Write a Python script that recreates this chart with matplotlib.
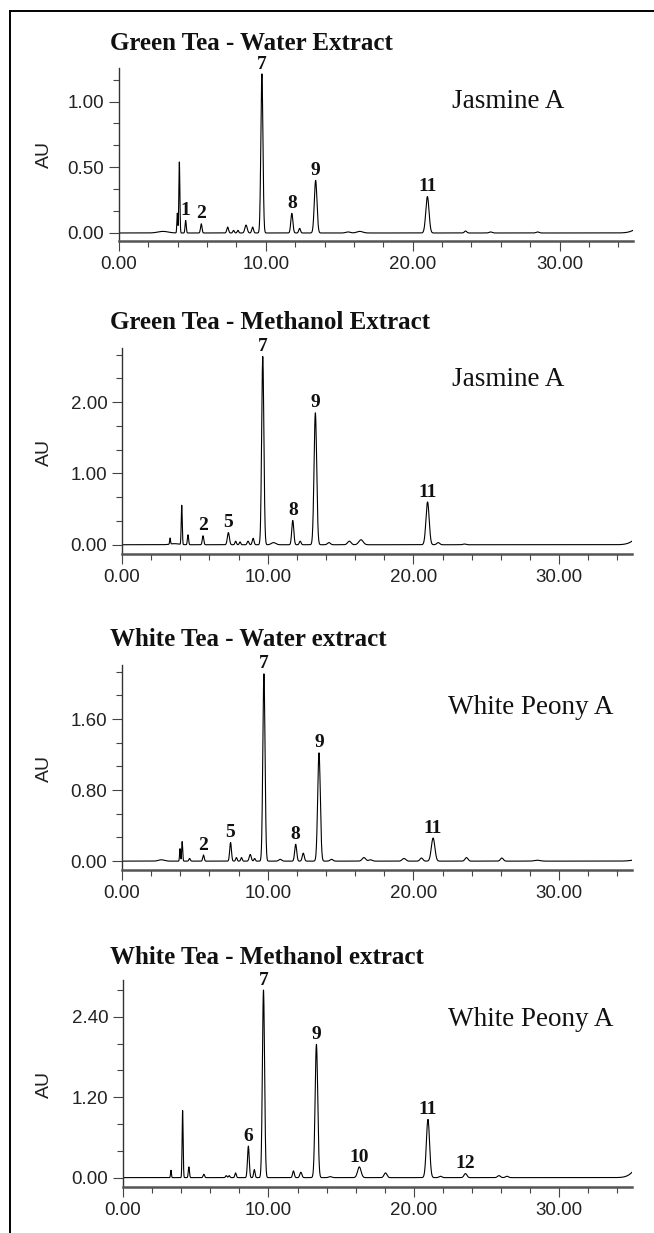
import numpy as np
import matplotlib
matplotlib.use('Agg')
import matplotlib.pyplot as plt
from matplotlib.lines import Line2D
from matplotlib.ticker import MultipleLocator, FormatStrFormatter

# peak tables: retention time (min), height (AU), width (min)
gw_rt = [3.0, 3.97, 4.11, 4.54, 5.6, 7.4, 7.8, 8.1, 8.65, 9.1, 9.73, 11.77, 12.3, 13.39,
         15.6, 16.4, 21.0, 23.6, 25.3, 28.5, 36.0]
gw_h = [0.012, 0.15, 0.54, 0.095, 0.07, 0.045, 0.02, 0.02, 0.06, 0.045, 1.21, 0.149, 0.035, 0.40,
        0.008, 0.012, 0.277, 0.015, 0.008, 0.008, 0.08]
gw_w = [0.35, 0.03, 0.035, 0.04, 0.05, 0.06, 0.05, 0.05, 0.08, 0.06, 0.07, 0.07, 0.06, 0.09,
        0.15, 0.2, 0.11, 0.08, 0.1, 0.1, 0.6]
gw_labels = ['1', '2', '7', '8', '9', '11']
gw_label_rt = [4.54, 5.6, 9.73, 11.77, 13.39, 21.0]

gm_rt = [3.3, 3.6, 4.1, 4.53, 5.56, 7.3, 7.8, 8.1, 8.65, 9.0, 9.66, 10.4, 11.72, 12.23, 13.27,
         14.2, 15.6, 16.4, 20.97, 21.7, 23.5, 36.0]
gm_h = [0.085, 0.015, 0.55, 0.14, 0.126, 0.17, 0.05, 0.04, 0.05, 0.09, 2.64, 0.03, 0.34, 0.05, 1.85,
        0.03, 0.05, 0.07, 0.60, 0.03, 0.01, 0.2]
gm_w = [0.03, 0.3, 0.035, 0.04, 0.05, 0.07, 0.05, 0.05, 0.06, 0.06, 0.075, 0.15, 0.07, 0.06, 0.09,
        0.1, 0.12, 0.15, 0.11, 0.1, 0.1, 0.6]
gm_labels = ['2', '5', '7', '8', '9', '11']
gm_label_rt = [5.56, 7.3, 9.66, 11.72, 13.27, 20.97]

ww_rt = [2.7, 3.98, 4.13, 4.64, 5.59, 7.45, 7.85, 8.2, 8.8, 9.1, 9.74, 10.86, 11.92, 12.44, 13.52,
         14.38, 16.6, 17.05, 19.35, 20.55, 21.35, 23.64, 26.07, 28.5, 36.0]
ww_h = [0.015, 0.14, 0.22, 0.03, 0.07, 0.21, 0.04, 0.04, 0.075, 0.03, 2.11, 0.02, 0.19, 0.09, 1.22,
        0.02, 0.04, 0.015, 0.03, 0.035, 0.26, 0.04, 0.035, 0.01, 0.04]
ww_w = [0.2, 0.03, 0.035, 0.05, 0.05, 0.06, 0.05, 0.05, 0.07, 0.05, 0.075, 0.1, 0.07, 0.07, 0.09,
        0.1, 0.12, 0.12, 0.12, 0.1, 0.12, 0.1, 0.1, 0.2, 0.6]
ww_labels = ['2', '5', '7', '8', '9', '11']
ww_label_rt = [5.59, 7.45, 9.74, 11.92, 13.52, 21.35]

wm_rt = [3.3, 4.1, 4.53, 5.56, 7.1, 7.3, 7.74, 8.62, 9.03, 9.66, 11.72, 12.23, 13.3, 14.24,
         16.25, 18.05, 20.97, 21.83, 23.55, 25.85, 26.4, 36.0]
wm_h = [0.11, 1.0, 0.16, 0.05, 0.03, 0.03, 0.07, 0.47, 0.12, 2.80, 0.10, 0.08, 1.99, 0.015,
        0.16, 0.07, 0.87, 0.02, 0.06, 0.03, 0.02, 0.32]
wm_w = [0.03, 0.035, 0.04, 0.05, 0.05, 0.05, 0.05, 0.06, 0.05, 0.075, 0.06, 0.07, 0.09, 0.1,
        0.12, 0.1, 0.11, 0.1, 0.1, 0.1, 0.1, 0.6]
wm_labels = ['6', '7', '9', '10', '11', '12']
wm_label_rt = [8.62, 9.66, 13.3, 16.25, 20.97, 23.55]

titles = ['Green Tea - Water Extract', 'Green Tea - Methanol Extract',
          'White Tea - Water extract', 'White Tea - Methanol extract']
samples = ['Jasmine A', 'Jasmine A', 'White Peony A', 'White Peony A']
y_major = [0.50, 1.00, 0.80, 1.20]
y_limits = [(-0.061, 1.255), (-0.13, 2.76), (-0.10, 2.21), (-0.14, 2.95)]

panels = [
    (gw_rt, gw_h, gw_w, gw_labels, gw_label_rt),
    (gm_rt, gm_h, gm_w, gm_labels, gm_label_rt),
    (ww_rt, ww_h, ww_w, ww_labels, ww_label_rt),
    (wm_rt, wm_h, wm_w, wm_labels, wm_label_rt),
]

# layout in pixels: (left, right, top, bottom) of each plot area, title y, sample y, AU y
W, H = 654, 1233
boxes = [(119, 633, 68, 241), (122, 632, 348, 554), (122, 632, 665, 870), (123, 632, 980, 1187)]
title_y = [43, 322, 640, 957]
sample_y = [102, 379, 708, 1019]
sample_x = [452, 452, 448, 448]
au_y = [155, 452, 768, 1085]

SANS = 'Liberation Sans'
SERIF = 'Liberation Serif'

fig = plt.figure(figsize=(W / 100, H / 100), dpi=100)
t = np.linspace(0, 35, 3501)

for i, (rt, h, w, labels, label_rt) in enumerate(panels):
    l, r, top, bot = boxes[i]
    ax = fig.add_axes([l / W, 1 - bot / H, (r - l) / W, (bot - top) / H])

    trace = np.zeros_like(t)
    for p, a, s in zip(rt, h, w):
        trace += a * np.exp(-0.5 * ((t - p) / s) ** 2)
    ax.plot(t, trace, color='black', lw=0.8)

    for lab, p in zip(labels, label_rt):
        yv = np.interp(p, t, trace)
        ax.annotate(lab, (p, yv), xytext=(0, 1), textcoords='offset points',
                    ha='center', va='bottom', fontsize=14, fontweight='bold',
                    family=SERIF, color='#111111')

    ax.set_xlim(0, 35)
    ax.set_ylim(*y_limits[i])
    ax.xaxis.set_major_locator(MultipleLocator(10))
    ax.xaxis.set_minor_locator(MultipleLocator(2))
    ax.xaxis.set_major_formatter(FormatStrFormatter('%.2f'))
    ax.yaxis.set_major_locator(MultipleLocator(y_major[i]))
    ax.yaxis.set_minor_locator(MultipleLocator(y_major[i] / 3))
    ax.yaxis.set_major_formatter(FormatStrFormatter('%.2f'))

    for side in ['top', 'right']:
        ax.spines[side].set_visible(False)
    ax.spines['left'].set_color('#333333')
    ax.spines['left'].set_linewidth(1.0)
    ax.spines['bottom'].set_color('#555555')
    ax.spines['bottom'].set_linewidth(1.8)

    ax.tick_params(axis='both', which='major', length=7.5, width=0.8, color='#444444',
                   labelsize=13.5, labelcolor='#222222', pad=3)
    ax.tick_params(axis='both', which='minor', length=4, width=0.8, color='#444444')
    for lbl in ax.get_xticklabels() + ax.get_yticklabels():
        lbl.set_family(SANS)
    ax.set_facecolor('none')

    fig.text(110 / W, 1 - title_y[i] / H, titles[i], ha='left', va='center',
             fontsize=18, fontweight='bold', family=SERIF, color='#111111')
    fig.text(sample_x[i] / W, 1 - sample_y[i] / H, samples[i], ha='left', va='center',
             fontsize=19.5, family=SERIF, color='#111111')
    fig.text(44 / W, 1 - au_y[i] / H, 'AU', rotation=90, ha='center', va='center',
             fontsize=14, family=SANS, color='#222222')

# page frame: top and left edges
fig.add_artist(Line2D([10 / W, 1], [1 - 11 / H, 1 - 11 / H], color='black', lw=1.4,
                      transform=fig.transFigure))
fig.add_artist(Line2D([10 / W, 10 / W], [0, 1 - 11 / H], color='black', lw=1.4,
                      transform=fig.transFigure))

fig.savefig('out.png', dpi=100, facecolor='white')
